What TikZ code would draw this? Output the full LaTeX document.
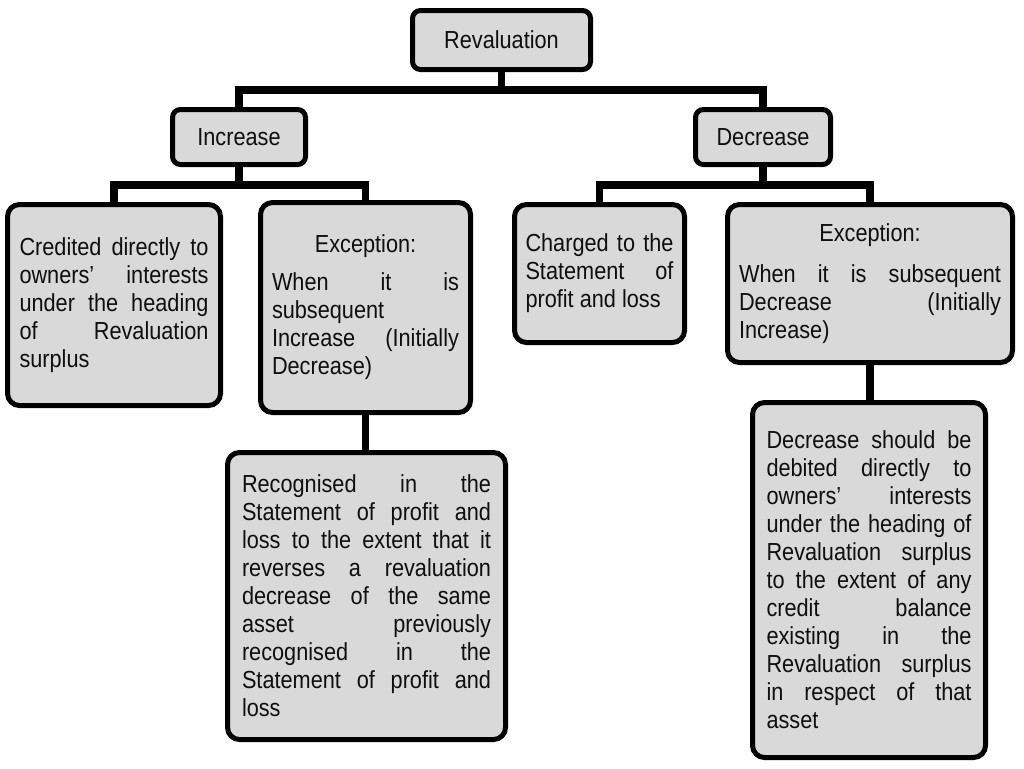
\documentclass[tikz,border=0pt]{standalone}
\usepackage{fontspec}
\setmainfont{Liberation Sans}[FakeStretch=0.88]
\usetikzlibrary{backgrounds}
\definecolor{boxfill}{RGB}{217,217,217}
\definecolor{ink}{RGB}{15,15,15}
\tolerance=10000
\hyphenpenalty=10000
\hbadness=10000
\begin{document}
\begin{tikzpicture}[x=0.75pt,y=-0.75pt,
  box/.style={draw=black, line width=3.75pt, fill=boxfill, outer sep=0pt, inner sep=0pt,
    text=ink, font=\fontsize{18.5}{21}\selectfont},
  smallbox/.style={box, rounded corners=6pt, align=center},
  bigbox/.style={box, rounded corners=9pt, align=justify},
  link/.style={draw=black, line width=5.3pt, line join=miter}]
\useasboundingbox (0,0) rectangle (1024,768);

\node[smallbox, minimum width=133.5pt, minimum height=44.25pt] (rev) at (501.5,40) {Revaluation};
\node[smallbox, minimum width=99.75pt, minimum height=41.25pt] (inc) at (239,137) {Increase};
\node[smallbox, minimum width=101.25pt, minimum height=41.25pt] (dec) at (763,137) {Decrease};

\node[bigbox, text width=141.75pt, minimum width=159.75pt, minimum height=150.75pt] (cred) at (114,305)
  {Credited directly to\linebreak owners’ interests\linebreak under the heading\linebreak of Revaluation\linebreak surplus};

\node[bigbox, text width=140.25pt, minimum width=157.5pt, minimum height=157.5pt] (excL) at (365.5,307.5)
  {\hspace*{\fill}Exception:\hspace*{\fill}\\[7.5pt]When it is\linebreak subsequent\linebreak Increase (Initially\linebreak Decrease)};

\node[bigbox, text width=186.75pt, minimum width=208.5pt, minimum height=215.25pt] (rec) at (366.5,596)
  {Recognised in the\linebreak Statement of profit and\linebreak loss to the extent that it\linebreak reverses a revaluation\linebreak decrease of the same\linebreak asset previously\linebreak recognised in the\linebreak Statement of profit and\linebreak loss};

\node[bigbox, text width=111pt, minimum width=127.5pt, minimum height=103.5pt] (chg) at (599.5,273.5)
  {Charged to the\linebreak Statement of\linebreak profit and loss};

\node[bigbox, text width=196.5pt, minimum width=213.75pt, minimum height=118.5pt] (excR) at (870,283.5)
  {\hspace*{\fill}Exception:\hspace*{\fill}\\[10pt]When it is subsequent\linebreak Decrease (Initially\linebreak Increase)};

\node[bigbox, text width=153.75pt, minimum width=174.75pt, minimum height=266.25pt] (decs) at (869,580)
  {Decrease should be\linebreak debited directly to\linebreak owners’ interests\linebreak under the heading of\linebreak Revaluation surplus\linebreak to the extent of any\linebreak credit balance\linebreak existing in the\linebreak Revaluation surplus\linebreak in respect of that\linebreak asset};

\begin{scope}[on background layer]
  \fill[white] (0,0) rectangle (1024,768);
  \draw[link] (rev.south) -- ++(0,20.5) -| (inc.north);
  \draw[link] (rev.south) -- ++(0,20.5) -| (dec.north);
  \draw[link] (inc.south) -- ++(0,20.5) -| (cred.north);
  \draw[link] (inc.south) -- ++(0,20.5) -| (excL.north);
  \draw[link] (dec.south) -- ++(0,20.5) -| (chg.north);
  \draw[link] (dec.south) -- ++(0,20.5) -| (excR.north);
  \draw[link] (excL.south) -- (excL.south |- rec.north);
  \draw[link] (excR.south) -- (excR.south |- decs.north);
\end{scope}
\end{tikzpicture}
\end{document}
